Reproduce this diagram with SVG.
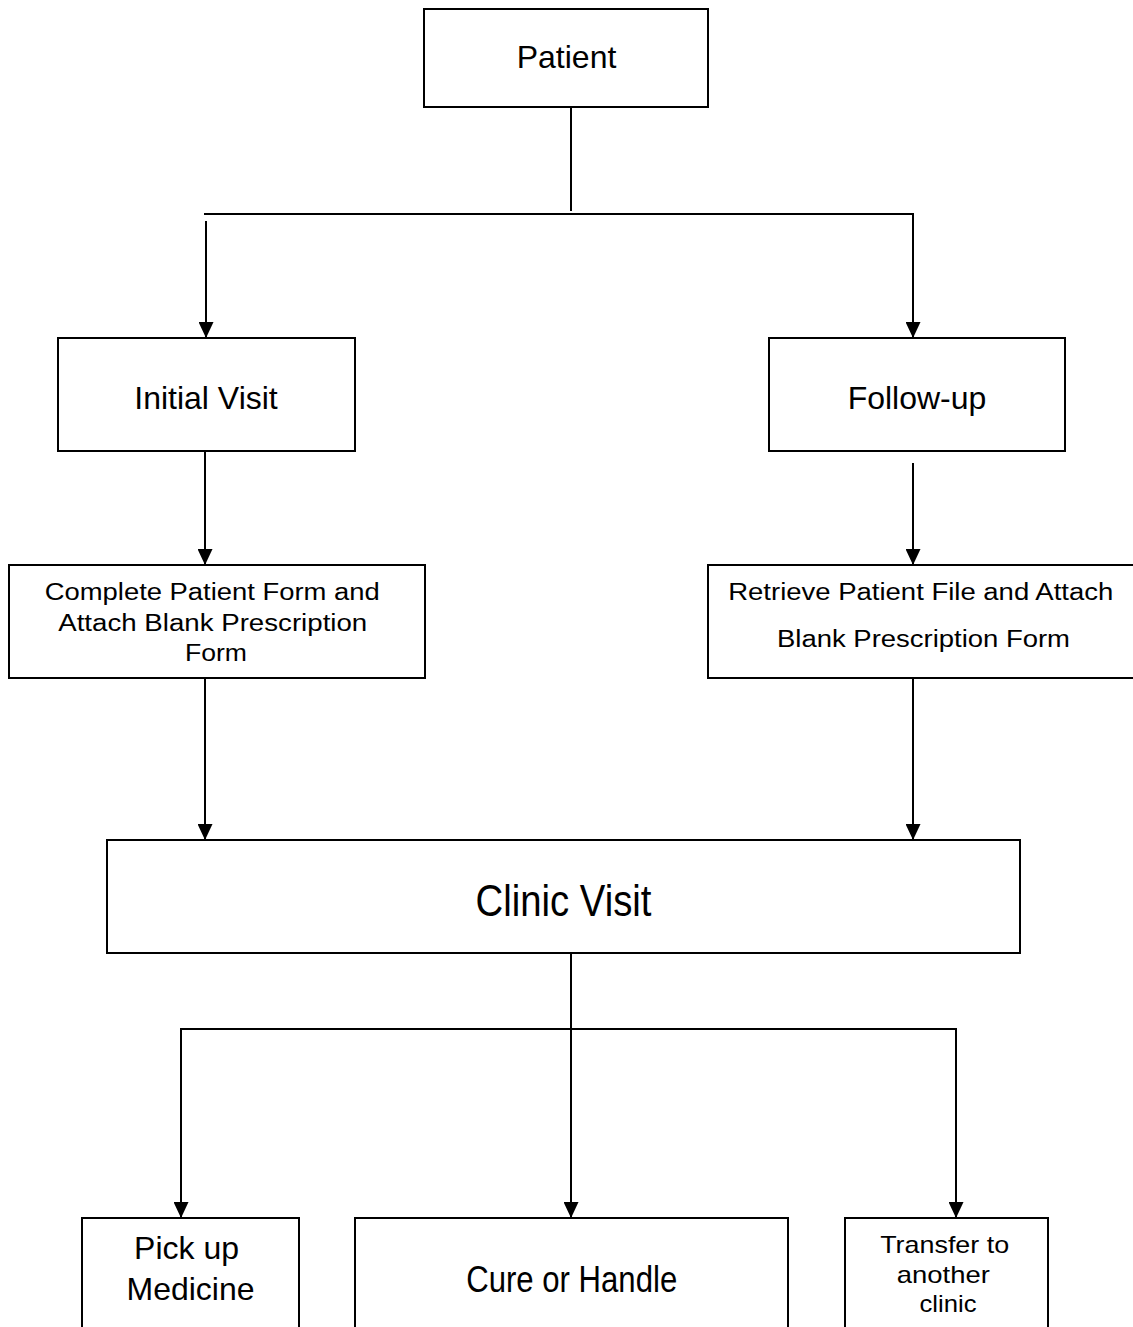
<svg xmlns="http://www.w3.org/2000/svg" width="1133" height="1327" viewBox="0 0 1133 1327">
<style>
.box{fill:#fff;stroke:#000;stroke-width:2}
.t{font-family:"Liberation Sans",Arial,sans-serif;fill:#000;text-anchor:middle}
.n{font-family:"Liberation Sans Narrow","Liberation Sans",Arial,sans-serif;fill:#000;text-anchor:middle}
.c{fill:none;stroke:#000;stroke-width:2}
.a{marker-end:url(#ah)}
</style>
<defs>
<marker id="ah" markerUnits="userSpaceOnUse" markerWidth="17" markerHeight="15" refX="16" refY="7.5" orient="auto">
<path d="M0,0 L16,7.5 L0,15 Z" fill="#000"/>
</marker>
</defs>
<rect width="1133" height="1327" fill="#fff"/>
<g id="connectors">
<path class="c" d="M571,107 V211"/>
<path class="c a" d="M204,214 H913 V338"/>
<path class="c a" d="M206,221 V338"/>
<path class="c a" d="M205,451 V565"/>
<path class="c a" d="M913,463 V565"/>
<path class="c a" d="M205,678 V840"/>
<path class="c a" d="M913,678 V840"/>
<path class="c a" d="M571,953 V1218"/>
<path class="c" d="M180,1029 H957"/>
<path class="c a" d="M181,1029 V1218"/>
<path class="c a" d="M956,1029 V1218"/>
</g>
<g id="patient">
<rect class="box" x="424" y="9" width="284" height="98"/>
<text class="t" x="566.5" y="68" font-size="32">Patient</text>
</g>
<g id="initial-visit">
<rect class="box" x="58" y="338" width="297" height="113"/>
<text class="t" x="206" y="409" font-size="32">Initial Visit</text>
</g>
<g id="follow-up">
<rect class="box" x="769" y="338" width="296" height="113"/>
<text class="t" x="917" y="409" font-size="32">Follow-up</text>
</g>
<g id="complete-form">
<rect class="box" x="9" y="565" width="416" height="113"/>
<text class="t" font-size="23.5" lengthAdjust="spacingAndGlyphs">
<tspan x="215.5" y="600" textLength="335" lengthAdjust="spacingAndGlyphs">Complete Patient Form and</tspan>
<tspan x="216" y="631" textLength="309" lengthAdjust="spacingAndGlyphs">Attach Blank Prescription</tspan>
<tspan x="216" y="661" textLength="62" lengthAdjust="spacingAndGlyphs">Form</tspan>
</text>
</g>
<g id="retrieve-file">
<rect class="box" x="708" y="565" width="440" height="113"/>
<text class="t" font-size="23.5">
<tspan x="924" y="600" textLength="385" lengthAdjust="spacingAndGlyphs">Retrieve Patient File and Attach</tspan>
<tspan x="923.5" y="647" textLength="293" lengthAdjust="spacingAndGlyphs">Blank Prescription Form</tspan>
</text>
</g>
<g id="clinic-visit">
<rect class="box" x="107" y="840" width="913" height="113"/>
<text class="n" x="563.5" y="916" font-size="44" textLength="176" lengthAdjust="spacingAndGlyphs">Clinic Visit</text>
</g>
<g id="pick-up-medicine">
<rect class="box" x="82" y="1218" width="217" height="130"/>
<text class="t" font-size="32">
<tspan x="191" y="1259">Pick up</tspan>
<tspan x="190.5" y="1300">Medicine</tspan>
</text>
</g>
<g id="cure-or-handle">
<rect class="box" x="355" y="1218" width="433" height="130"/>
<text class="n" x="571.7" y="1292" font-size="37" textLength="211" lengthAdjust="spacingAndGlyphs">Cure or Handle</text>
</g>
<g id="transfer">
<rect class="box" x="845" y="1218" width="203" height="130"/>
<text class="t" font-size="24">
<tspan x="948" y="1253" textLength="129" lengthAdjust="spacingAndGlyphs">Transfer to</tspan>
<tspan x="946.7" y="1283" textLength="93" lengthAdjust="spacingAndGlyphs">another</tspan>
<tspan x="948" y="1312" textLength="57" lengthAdjust="spacingAndGlyphs">clinic</tspan>
</text>
</g>
</svg>
